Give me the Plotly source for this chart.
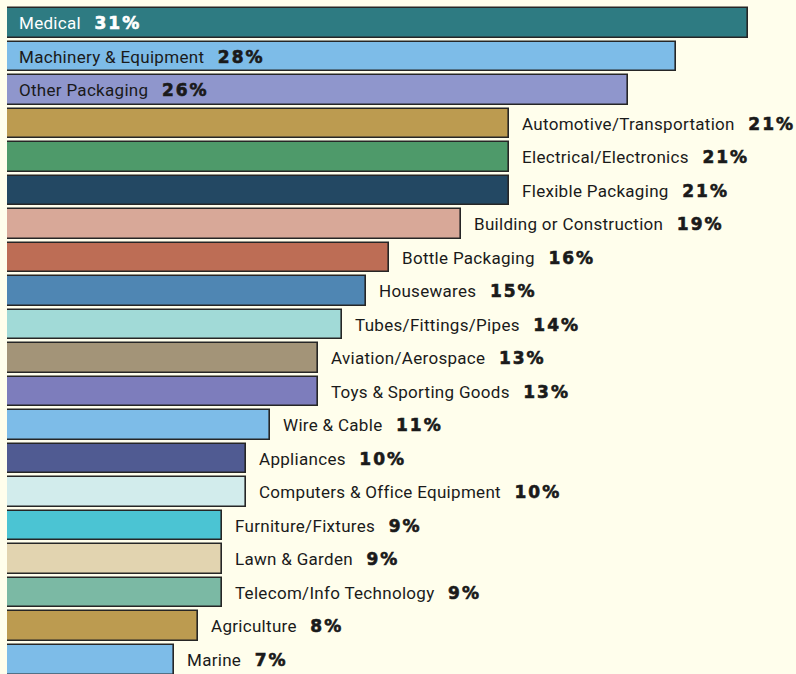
import plotly.graph_objects as go

categories = [
    'Medical', 'Machinery & Equipment', 'Other Packaging', 'Automotive/Transportation',
    'Electrical/Electronics', 'Flexible Packaging', 'Building or Construction',
    'Bottle Packaging', 'Housewares', 'Tubes/Fittings/Pipes', 'Aviation/Aerospace',
    'Toys & Sporting Goods', 'Wire & Cable', 'Appliances', 'Computers & Office Equipment',
    'Furniture/Fixtures', 'Lawn & Garden', 'Telecom/Info Technology', 'Agriculture', 'Marine',
]
shares = [31, 28, 26, 21, 21, 21, 19, 16, 15, 14, 13, 13, 11, 10, 10, 9, 9, 9, 8, 7]
bar_colors = [
    '#2E7B82', '#7DBCE8', '#8F96CC', '#BC9B50', '#4E9A6A', '#234863', '#D8A898',
    '#BD6D55', '#4F86B3', '#A1DAD7', '#A39478', '#7D7DBC', '#7DBCE8', '#505B92',
    '#D2ECEC', '#4BC4D3', '#E2D4B0', '#7BB9A4', '#BC9B50', '#7DBCE8',
]
inside_count = 3  # first bars carry their label inside

label_style = 'letter-spacing:0.3px'
pct_style = ('font-family:DejaVu Sans;font-weight:bold;font-size:17px;'
             'letter-spacing:2px;stroke-width:0.6px;stroke:{c}')

rows = list(range(len(categories)))

fig = go.Figure()
fig.add_trace(go.Bar(
    x=shares, y=rows, orientation='h', width=0.89,
    marker=dict(color=bar_colors, line=dict(color='#262626', width=1.6)),
    hoverinfo='skip', showlegend=False,
))

for i, (cat, v) in enumerate(zip(categories, shares)):
    inside = i < inside_count
    color = 'white' if i == 0 else '#1a1a1a'
    txt = (f"<span style='{label_style}'>{cat}\u00a0\u00a0\u00a0</span>"
           f"<span style='{pct_style.format(c=color)}'>{v}%</span>")
    fig.add_annotation(
        x=0 if inside else v, y=i, xref='x', yref='y',
        text=txt, showarrow=False, xanchor='left', yanchor='middle',
        xshift=10 if inside else 11,
        font=dict(family='Roboto, Liberation Sans, Arial', size=17, color=color),
    )

fig.update_layout(
    width=796, height=674,
    margin=dict(l=7, r=0, t=0, b=0),
    paper_bgcolor='#FFFEEC', plot_bgcolor='#FFFEEC',
    bargap=0,
    xaxis=dict(range=[0, 33.01], visible=False, fixedrange=True),
    yaxis=dict(range=[19.43, -0.687], visible=False, fixedrange=True),
)

fig.write_html('out.html', config={'displayModeBar': False},
               post_script="document.body.style.margin='0';")
